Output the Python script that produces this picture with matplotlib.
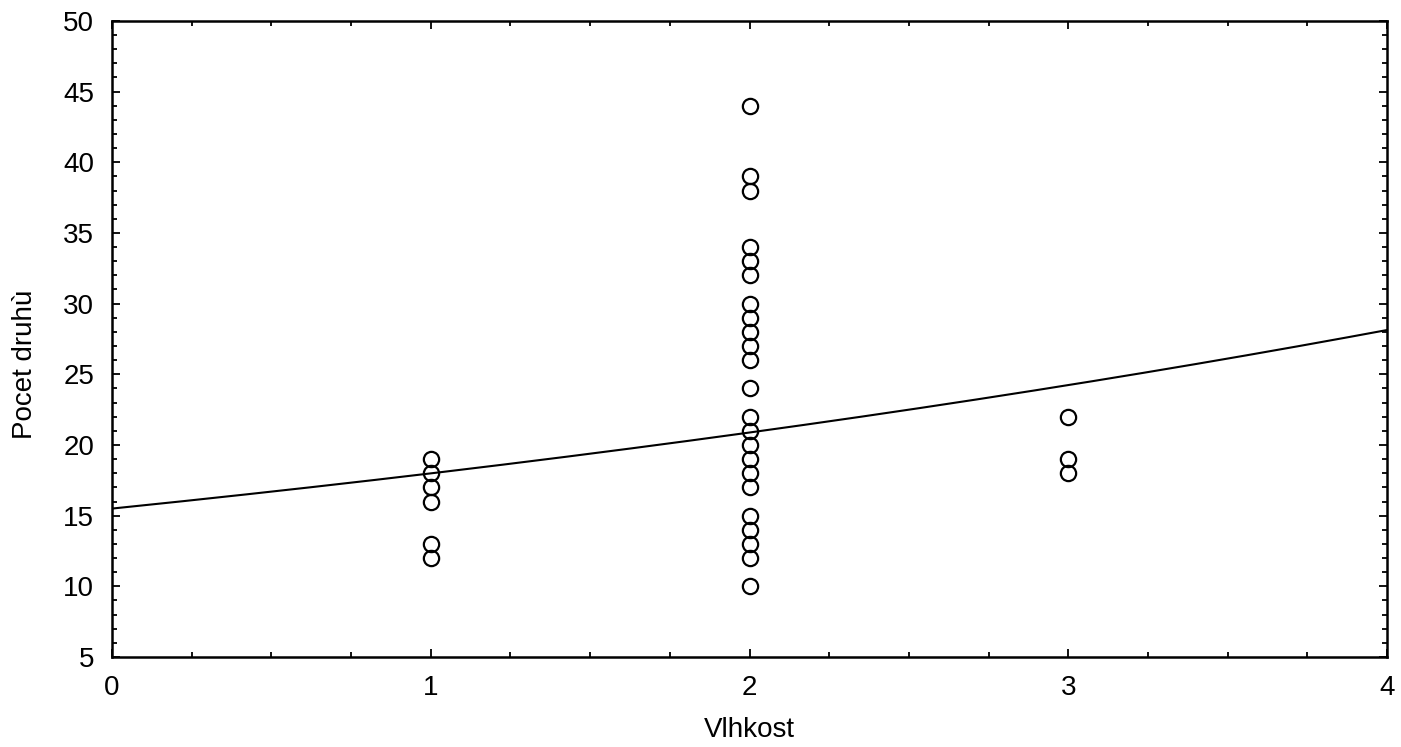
import numpy as np
import matplotlib
matplotlib.use('Agg')
import matplotlib.pyplot as plt
from matplotlib.ticker import MultipleLocator

plt.rcParams['font.family'] = ['Liberation Sans', 'DejaVu Sans']

vlhkost_1 = [1, 1, 1, 1, 1, 1]
druhy_1 = [19, 18, 17, 16, 13, 12]
vlhkost_2 = [2] * 23
druhy_2 = [44, 39, 38, 34, 33, 32, 30, 29, 28, 27, 26, 24,
           22, 21, 20, 19, 18, 17, 15, 14, 13, 12, 10]
vlhkost_3 = [3, 3, 3]
druhy_3 = [22, 19, 18]

#fitted exponential curve y = a*exp(b*x), parameters
fit_a = 15.5
fit_b = 0.149

x_ticks = [0, 1, 2, 3, 4]
y_ticks = [5, 10, 15, 20, 25, 30, 35, 40, 45, 50]

x = vlhkost_1 + vlhkost_2 + vlhkost_3
y = druhy_1 + druhy_2 + druhy_3

fig = plt.figure(figsize=(14.01, 7.47), dpi=100)
ax = fig.add_axes([0.080, 0.1205, 0.910, 0.8515])

xs = np.linspace(0, 4, 200)
ax.plot(xs, fit_a*np.exp(fit_b*xs), color='black', lw=1.5)
ax.plot(x, y, linestyle='none', marker='o', markersize=11,
        markerfacecolor='none', markeredgecolor='black', markeredgewidth=1.6)

ax.set_xlim(0, 4)
ax.set_ylim(5, 50)
ax.set_xticks(x_ticks)
ax.set_yticks(y_ticks)
ax.xaxis.set_minor_locator(MultipleLocator(0.25))
ax.yaxis.set_minor_locator(MultipleLocator(1))
ax.tick_params(which='both', direction='in', top=True, right=True,
               width=1.3, color='black')
ax.tick_params(which='major', length=6, labelsize=20, pad=13)
ax.tick_params(which='minor', length=3.5)
for sp in ax.spines.values():
    sp.set_linewidth(1.8)

ax.set_xlabel('Vlhkost', fontsize=20)
ax.set_ylabel('Pocet druhù', fontsize=20)
ax.xaxis.set_label_coords(0.5, -0.095)
ax.yaxis.set_label_coords(-0.058, 0.46)

fig.savefig('out.png', dpi=100)
